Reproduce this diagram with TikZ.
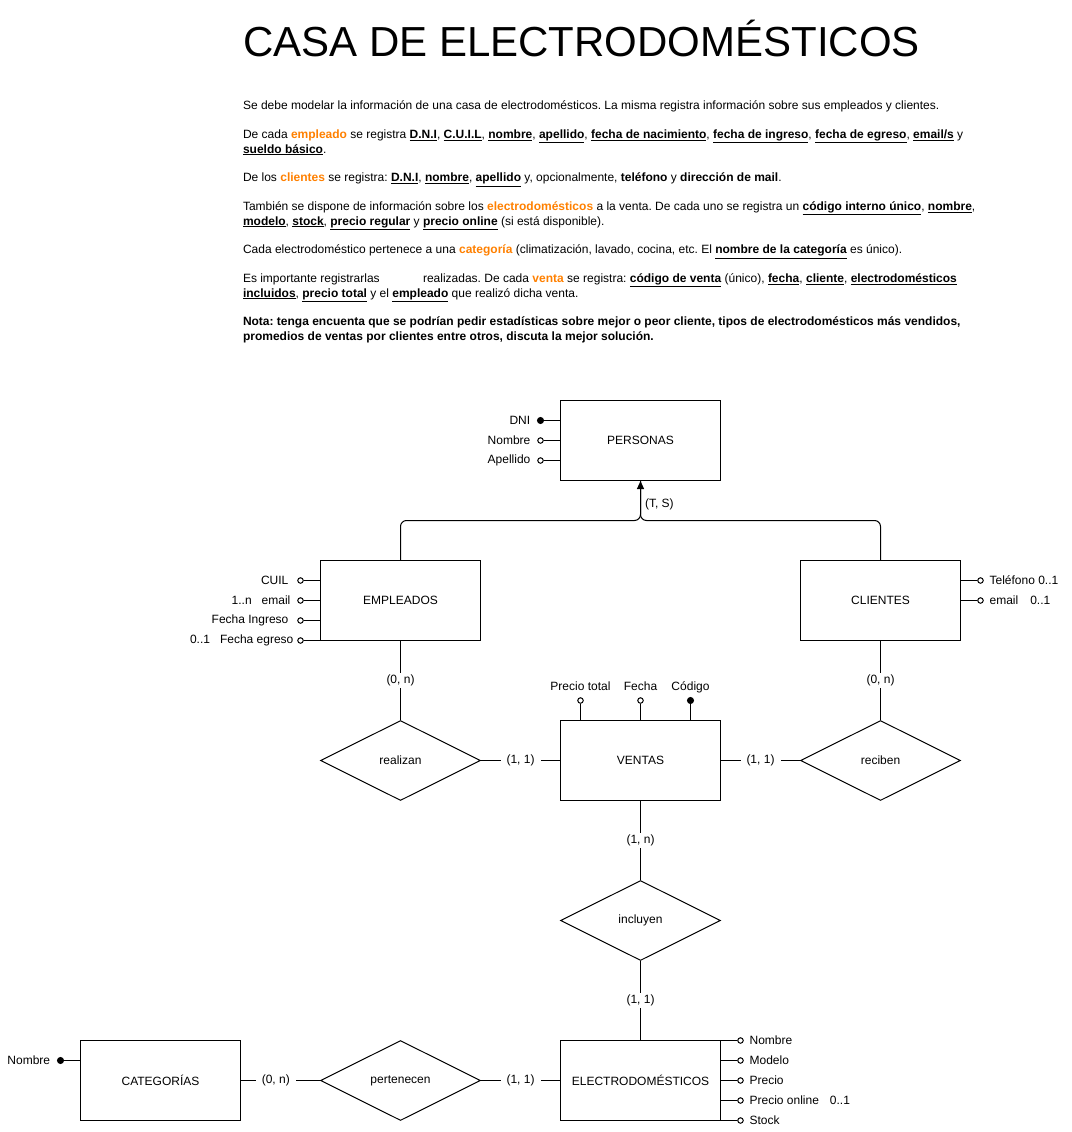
\documentclass[tikz,border=0pt]{standalone}
\usepackage{fontspec}
\setmainfont{Liberation Sans}
\usetikzlibrary{shapes.geometric,arrows.meta}

\definecolor{naranja}{RGB}{255,128,0}
\newcommand{\clave}[1]{\underline{\textbf{#1}}}
\newcommand{\resaltar}[1]{\textcolor{naranja}{\textbf{#1}}}

\tikzset{
  entidad/.style={draw, rectangle, minimum width=160pt, minimum height=80pt, inner sep=0pt},
  relacion/.style={draw, diamond, aspect=2, minimum width=160pt, minimum height=80pt, inner sep=0pt},
  atrib/.style={circle, draw, fill=white, minimum size=5.5pt, inner sep=0pt},
  atribclave/.style={circle, draw, fill=black, minimum size=6pt, inner sep=0pt},
  card/.style={fill=white, inner xsep=6pt, inner ysep=2pt},
}

\begin{document}
\frenchspacing
\begin{tikzpicture}[x=1pt, y=-1pt, line width=1pt, font=\fontsize{12}{14.4}\selectfont]
  \useasboundingbox (-0.5,-0.5) rectangle (1070.5,1131.5);

  % enunciado
  \node[anchor=base west, inner sep=0pt, font=\fontsize{42}{48}\selectfont] (titulo) at (242,56) {CASA DE ELECTRODOMÉSTICOS};
  \node[anchor=north west, align=left, inner sep=0pt] (enunciado) at (242,100) {%
    Se debe modelar la información de una casa de electrodomésticos. La misma registra información sobre sus empleados y clientes.\\[14.4pt]
    De cada \resaltar{empleado} se registra \clave{D.N.I}, \clave{C.U.I.L}, \clave{nombre}, \clave{apellido}, \clave{fecha de nacimiento}, \clave{fecha de ingreso}, \clave{fecha de egreso}, \clave{email/s} y\\
    \clave{sueldo básico}.\\[14.4pt]
    De los \resaltar{clientes} se registra: \clave{D.N.I}, \clave{nombre}, \clave{apellido} y, opcionalmente, \textbf{teléfono} y \textbf{dirección de mail}.\\[14.4pt]
    También se dispone de información sobre los \resaltar{electrodomésticos} a la venta. De cada uno se registra un \clave{código interno único}, \clave{nombre},\\
    \clave{modelo}, \clave{stock}, \clave{precio regular} y \clave{precio online} (si está disponible).\\[14.4pt]
    Cada electrodoméstico pertenece a una \resaltar{categoría} (climatización, lavado, cocina, etc. El \clave{nombre de la categoría} es único).\\[14.4pt]
    Es importante registrarlas\hspace{40pt} realizadas. De cada \resaltar{venta} se registra: \clave{código de venta} (único), \clave{fecha}, \clave{cliente}, \clave{electrodomésticos}\\
    \clave{incluidos}, \clave{precio total} y el \clave{empleado} que realizó dicha venta.\\[14.4pt]
    \textbf{Nota: tenga encuenta que se podrían pedir estadísticas sobre mejor o peor cliente, tipos de electrodomésticos más vendidos,}\\
    \textbf{promedios de ventas por clientes entre otros, discuta la mejor solución.}};

  % entidades y relaciones
  \node[entidad] (personas) at (640,440) {PERSONAS};
  \node[entidad] (empleados) at (400,600) {EMPLEADOS};
  \node[entidad] (clientes) at (880,600) {CLIENTES};
  \node[entidad] (ventas) at (640,760) {VENTAS};
  \node[entidad] (electro) at (640,1080) {ELECTRODOMÉSTICOS};
  \node[entidad] (categorias) at (160,1080) {CATEGORÍAS};
  \node[relacion] (realizan) at (400,760) {realizan};
  \node[relacion] (reciben) at (880,760) {reciben};
  \node[relacion] (incluyen) at (640,920) {incluyen};
  \node[relacion] (pertenecen) at (400,1080) {pertenecen};

  % jerarquia
  \coordinate (isa) at (640,520);
  \draw[rounded corners=6pt] (clientes.north) |- (isa) -- (personas.south);
  \draw[rounded corners=6pt, -{Triangle[width=7pt,length=8pt]}] (empleados.north) |- (isa) -- node[pos=0.4, right, inner sep=4pt] {(T, S)} (personas.south);

  % atributos
  \node[atribclave, label={[label distance=3pt]left:DNI}] (dni) at (540,420) {};
  \node[atrib, label={[label distance=3pt]left:Nombre}] (nombre) at (540,440) {};
  \node[atrib, label={[label distance=3pt]left:Apellido}] (apellido) at (540,460) {};
  \draw (dni) -- (personas.west |- dni);
  \draw (nombre) -- (personas.west |- nombre);
  \draw (apellido) -- (personas.west |- apellido);

  \node[atrib, label={[label distance=5pt]left:CUIL}] (cuil) at (300,580) {};
  \node[atrib, label={[label distance=3pt]left:1..n\hspace{10pt}email}] (emailemp) at (300,600) {};
  \node[atrib, label={[label distance=5pt]left:Fecha Ingreso}] (fingreso) at (300,620) {};
  \node[atrib, label={[label distance=0pt]left:0..1\hspace{10pt}Fecha egreso}] (fegreso) at (300,640) {};
  \draw (cuil) -- (empleados.west |- cuil);
  \draw (emailemp) -- (empleados.west |- emailemp);
  \draw (fingreso) -- (empleados.west |- fingreso);
  \draw (fegreso) -- (empleados.west |- fegreso);

  \node[atrib, label={[label distance=2pt]right:Teléfono 0..1}] (telefono) at (980,580) {};
  \node[atrib, label={[label distance=2pt]right:email\hspace{12pt}0..1}] (emailcli) at (980,600) {};
  \draw (telefono) -- (clientes.east |- telefono);
  \draw (emailcli) -- (clientes.east |- emailcli);

  \node[atrib, label={[label distance=0pt, text depth=3pt]above:Precio total}] (ptotal) at (580,700) {};
  \node[atrib, label={[label distance=0pt, text depth=3pt]above:Fecha}] (fecha) at (640,700) {};
  \node[atribclave, label={[label distance=0pt, text depth=3pt]above:Código}] (codigo) at (690,700) {};
  \draw (ptotal) -- (ptotal |- ventas.north);
  \draw (fecha) -- (fecha |- ventas.north);
  \draw (codigo) -- (codigo |- ventas.north);

  \node[atrib, label={[label distance=2pt]right:Nombre}] (enombre) at (740,1040) {};
  \node[atrib, label={[label distance=2pt]right:Modelo}] (emodelo) at (740,1060) {};
  \node[atrib, label={[label distance=2pt]right:Precio}] (eprecio) at (740,1080) {};
  \node[atrib, label={[label distance=2pt]right:Precio online\hspace{11pt}0..1}] (eonline) at (740,1100) {};
  \node[atrib, label={[label distance=2pt]right:Stock}] (estock) at (740,1120) {};
  \draw (enombre) -- (electro.east |- enombre);
  \draw (emodelo) -- (electro.east |- emodelo);
  \draw (eprecio) -- (electro.east |- eprecio);
  \draw (eonline) -- (electro.east |- eonline);
  \draw (estock) -- (electro.east |- estock);

  \node[atribclave, label={[label distance=3pt]left:Nombre}] (cnombre) at (60,1060) {};
  \draw (cnombre) -- (categorias.west |- cnombre);

  % cardinalidades
  \draw (empleados) -- node[card] {(0, n)} (realizan);
  \draw (clientes) -- node[card] {(0, n)} (reciben);
  \draw (realizan) -- node[card] {(1, 1)} (ventas);
  \draw (ventas) -- node[card] {(1, 1)} (reciben);
  \draw (ventas) -- node[card] {(1, n)} (incluyen);
  \draw (incluyen) -- node[card] {(1, 1)} (electro);
  \draw (categorias) -- node[card, pos=0.44] {(0, n)} (pertenecen);
  \draw (pertenecen) -- node[card] {(1, 1)} (electro);
\end{tikzpicture}
\end{document}
